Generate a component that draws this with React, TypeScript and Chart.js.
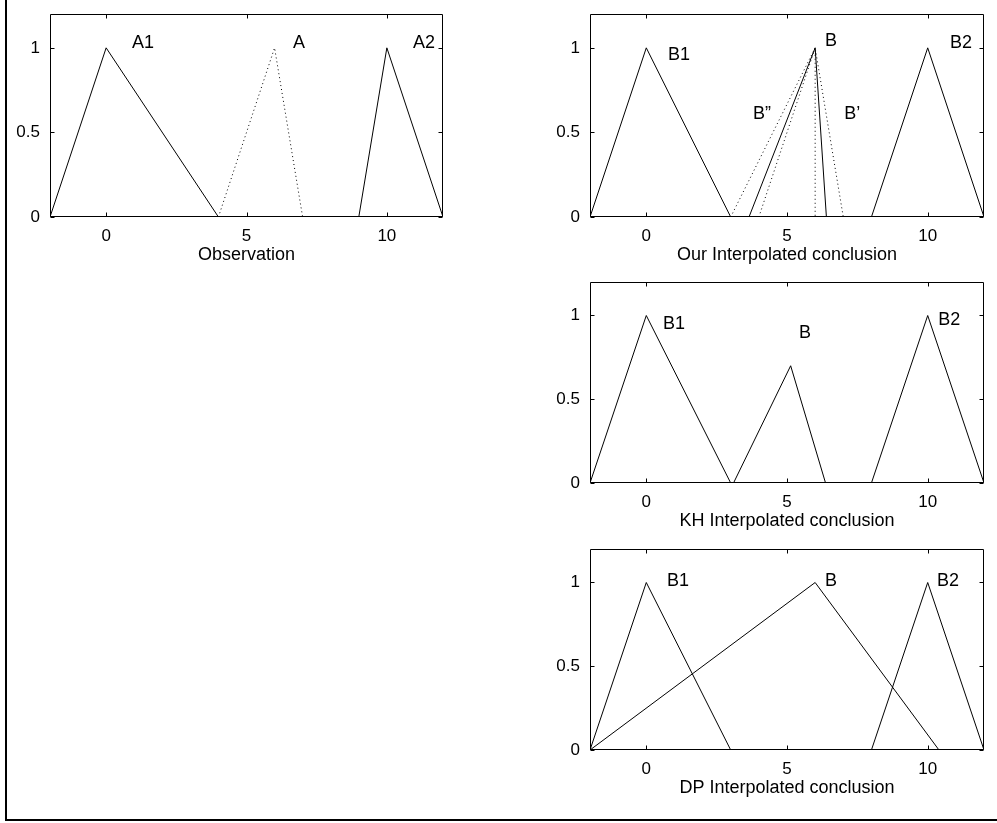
import React, { useEffect, useRef } from "react";
import { Chart, registerables } from "chart.js";

Chart.register(...registerables);

type Pt = { x: number; y: number };

// ---- axis ranges & ticks ----
const X_MIN = -2;
const X_MAX = 12;
const Y_MIN = 0;
const Y_MAX = 1.2;
const X_TICKS = [0, 5, 10];
const Y_TICKS = [0, 0.5, 1];

// ---- Observation ----
const OBS_A1: Pt[] = [{ x: -2, y: 0 }, { x: 0, y: 1 }, { x: 4, y: 0 }];
const OBS_A: Pt[] = [{ x: 4, y: 0 }, { x: 6, y: 1 }, { x: 7, y: 0 }];
const OBS_A2: Pt[] = [{ x: 9, y: 0 }, { x: 10, y: 1 }, { x: 12, y: 0 }];

// ---- Our interpolated conclusion ----
const OUR_B1: Pt[] = [{ x: -2, y: 0 }, { x: 0, y: 1 }, { x: 3, y: 0 }];
const OUR_B: Pt[] = [{ x: 3.65, y: 0 }, { x: 6, y: 1 }, { x: 6.4, y: 0 }];
const OUR_B2DASH: Pt[] = [{ x: 3, y: 0 }, { x: 6, y: 1 }, { x: 6, y: 0 }];
const OUR_BDASH: Pt[] = [{ x: 4, y: 0 }, { x: 6, y: 1 }, { x: 7, y: 0 }];
const OUR_B2: Pt[] = [{ x: 8, y: 0 }, { x: 10, y: 1 }, { x: 12, y: 0 }];

// ---- KH interpolated conclusion ----
const KH_B1: Pt[] = [{ x: -2, y: 0 }, { x: 0, y: 1 }, { x: 3, y: 0 }];
const KH_B: Pt[] = [{ x: 3.1, y: 0 }, { x: 5.13, y: 0.7 }, { x: 6.37, y: 0 }];
const KH_B2: Pt[] = [{ x: 8, y: 0 }, { x: 10, y: 1 }, { x: 12, y: 0 }];

// ---- DP interpolated conclusion ----
const DP_B1: Pt[] = [{ x: -2, y: 0 }, { x: 0, y: 1 }, { x: 3, y: 0 }];
const DP_B: Pt[] = [{ x: -2, y: 0 }, { x: 6, y: 1 }, { x: 10.4, y: 0 }];
const DP_B2: Pt[] = [{ x: 8, y: 0 }, { x: 10, y: 1 }, { x: 12, y: 0 }];

// ---- text annotations (data coords) ----
const OBS_LABELS = [
  { text: "A1", x: 0.92, y: 1.03 },
  { text: "A", x: 6.66, y: 1.03 },
  { text: "A2", x: 10.93, y: 1.03 },
];
const OUR_LABELS = [
  { text: "B1", x: 0.77, y: 0.955 },
  { text: "B", x: 6.35, y: 1.04 },
  { text: "B\u201D", x: 3.79, y: 0.61 },
  { text: "B\u2019", x: 7.03, y: 0.61 },
  { text: "B2", x: 10.79, y: 1.03 },
];
const KH_LABELS = [
  { text: "B1", x: 0.59, y: 0.95 },
  { text: "B", x: 5.43, y: 0.893 },
  { text: "B2", x: 10.37, y: 0.97 },
];
const DP_LABELS = [
  { text: "B1", x: 0.74, y: 1.01 },
  { text: "B", x: 6.35, y: 1.01 },
  { text: "B2", x: 10.33, y: 1.01 },
];

const FONT = "'Liberation Sans', Arial, Helvetica, sans-serif";
const Y_AXIS_W = 50;
const X_AXIS_H = 55;
const PAD_TOP = 14;
const PAD_RIGHT = 12;

type Series = { data: Pt[]; dotted?: boolean };
type Label = { text: string; x: number; y: number };
type Panel = {
  box: { L: number; T: number; R: number; B: number };
  title: string;
  series: Series[];
  labels: Label[];
};

const PANELS: Panel[] = [
  {
    box: { L: 50, T: 14, R: 443, B: 217 },
    title: "Observation",
    series: [{ data: OBS_A1 }, { data: OBS_A, dotted: true }, { data: OBS_A2 }],
    labels: OBS_LABELS,
  },
  {
    box: { L: 590, T: 14, R: 984, B: 217 },
    title: "Our Interpolated conclusion",
    series: [
      { data: OUR_B1 },
      { data: OUR_B2DASH, dotted: true },
      { data: OUR_BDASH, dotted: true },
      { data: OUR_B },
      { data: OUR_B2 },
    ],
    labels: OUR_LABELS,
  },
  {
    box: { L: 590, T: 282, R: 984, B: 483 },
    title: "KH Interpolated conclusion",
    series: [{ data: KH_B1 }, { data: KH_B }, { data: KH_B2 }],
    labels: KH_LABELS,
  },
  {
    box: { L: 590, T: 549, R: 984, B: 750 },
    title: "DP Interpolated conclusion",
    series: [{ data: DP_B1 }, { data: DP_B }, { data: DP_B2 }],
    labels: DP_LABELS,
  },
];

function PanelChart({ panel }: { panel: Panel }) {
  const ref = useRef<HTMLCanvasElement | null>(null);
  const { L, T, R, B } = panel.box;
  const width = R - L + Y_AXIS_W + PAD_RIGHT;
  const height = B - T + PAD_TOP + X_AXIS_H;

  useEffect(() => {
    if (!ref.current) return;
    const framePlugin = {
      id: "matlabFrame",
      afterDraw(chart: any) {
        const { ctx, chartArea: a, scales } = chart;
        const xs = scales.x;
        const ys = scales.y;
        ctx.save();
        ctx.strokeStyle = "#000";
        ctx.lineWidth = 1;
        const l = Math.round(a.left) + 0.5;
        const t = Math.round(a.top) + 0.5;
        const r = Math.round(a.right) - 0.5;
        const b = Math.round(a.bottom) - 0.5;
        ctx.beginPath();
        ctx.rect(l, t, r - l, b - t);
        ctx.stroke();
        const tl = 4;
        ctx.beginPath();
        for (const v of X_TICKS) {
          const px = Math.round(xs.getPixelForValue(v)) + 0.5;
          ctx.moveTo(px, b);
          ctx.lineTo(px, b - tl);
          ctx.moveTo(px, t);
          ctx.lineTo(px, t + tl);
        }
        for (const v of Y_TICKS) {
          const py = Math.round(ys.getPixelForValue(v)) + 0.5;
          ctx.moveTo(l, py);
          ctx.lineTo(l + tl, py);
          ctx.moveTo(r, py);
          ctx.lineTo(r - tl, py);
        }
        ctx.stroke();
        // text annotations
        ctx.fillStyle = "#000";
        ctx.font = `18px ${FONT}`;
        ctx.textAlign = "left";
        ctx.textBaseline = "middle";
        for (const lb of panel.labels) {
          ctx.fillText(lb.text, xs.getPixelForValue(lb.x), ys.getPixelForValue(lb.y));
        }
        ctx.restore();
      },
    };

    const chart = new Chart(ref.current, {
      type: "scatter",
      data: {
        datasets: panel.series.map((s) => ({
          data: s.data,
          showLine: true,
          borderColor: "#000",
          backgroundColor: "#000",
          borderWidth: 1,
          borderDash: s.dotted ? [1, 3] : [],
          pointRadius: 0,
          pointHoverRadius: 0,
          tension: 0,
          fill: false,
        })),
      },
      options: {
        responsive: false,
        animation: false,
        devicePixelRatio: 1,
        events: [],
        layout: { padding: { top: PAD_TOP, right: PAD_RIGHT, left: 0, bottom: 0 } },
        plugins: {
          legend: { display: false },
          tooltip: { enabled: false },
          title: { display: false },
        },
        scales: {
          x: {
            type: "linear",
            min: X_MIN,
            max: X_MAX,
            grid: { display: false, drawTicks: false },
            border: { display: false },
            afterBuildTicks: (s: any) => {
              s.ticks = X_TICKS.map((v) => ({ value: v }));
            },
            afterFit: (s: any) => {
              s.height = X_AXIS_H;
              s.paddingLeft = 0;
              s.paddingRight = 0;
              s.paddingTop = 0;
              s.paddingBottom = 0;
            },
            ticks: {
              color: "#000",
              padding: 9,
              maxRotation: 0,
              font: { family: FONT, size: 17 },
              callback: (v: any) => String(v),
            },
            title: {
              display: true,
              text: panel.title,
              color: "#000",
              font: { family: FONT, size: 18 },
              padding: { top: 0, bottom: 6 },
            },
          },
          y: {
            type: "linear",
            min: Y_MIN,
            max: Y_MAX,
            grid: { display: false, drawTicks: false },
            border: { display: false },
            afterBuildTicks: (s: any) => {
              s.ticks = Y_TICKS.map((v) => ({ value: v }));
            },
            afterFit: (s: any) => {
              s.width = Y_AXIS_W;
              s.paddingLeft = 0;
              s.paddingRight = 0;
              s.paddingTop = 0;
              s.paddingBottom = 0;
            },
            ticks: {
              color: "#000",
              padding: 10,
              font: { family: FONT, size: 17 },
              callback: (v: any) => String(v),
            },
          },
        },
      } as any,
      plugins: [framePlugin],
    });
    return () => chart.destroy();
  }, [panel]);

  return (
    <canvas
      ref={ref}
      width={width}
      height={height}
      style={{
        position: "absolute",
        left: L - Y_AXIS_W,
        top: T - PAD_TOP,
        width,
        height,
      }}
    />
  );
}

export default function App() {
  return (
    <div
      style={{
        position: "absolute",
        left: 0,
        top: 0,
        width: 997,
        height: 823,
        overflow: "hidden",
        background: "#fff",
      }}
    >
      <div
        style={{
          position: "absolute",
          left: 5,
          top: 0,
          width: 992,
          height: 819,
          borderLeft: "2px solid #000",
          borderBottom: "2px solid #000",
        }}
      />
      {PANELS.map((p, i) => (
        <PanelChart key={i} panel={p} />
      ))}
    </div>
  );
}
